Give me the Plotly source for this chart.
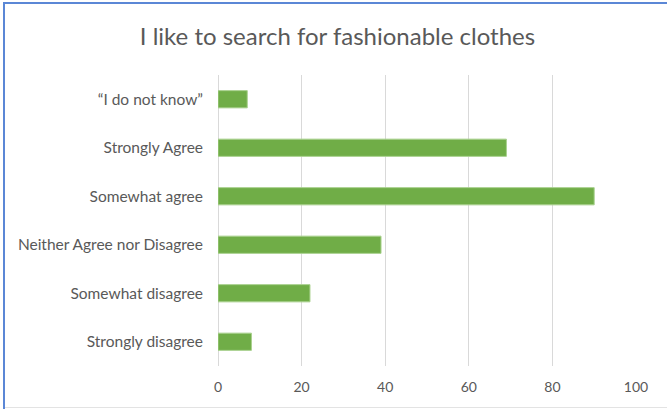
import plotly.graph_objects as go

# Survey responses, listed top to bottom as displayed
categories = [
    "\u201cI do not know\u201d",
    "Strongly Agree",
    "Somewhat agree",
    "Neither Agree nor Disagree",
    "Somewhat disagree",
    "Strongly disagree",
]
counts = [7, 69, 90, 39, 22, 8]
x_ticks = [0, 20, 40, 60, 80, 100]

W, H = 667, 409
ML, MR, MT, MB = 218, 31, 75, 43
plot_w = W - ML - MR
plot_h = H - MT - MB


def px_to_paper_x(px):
    return (px - ML) / plot_w


def px_to_paper_y(py):
    return 1 - (py - MT) / plot_h


fig = go.Figure(
    go.Bar(
        x=counts,
        y=categories,
        orientation="h",
        marker=dict(color="#70AD47", line=dict(color="#A9D18E", width=1)),
        hoverinfo="x+y",
    )
)

text_grey = "#595959"
font_family = "Lato, 'Open Sans', sans-serif"

fig.update_layout(
    width=W,
    height=H,
    margin=dict(l=ML, r=MR, t=MT, b=MB),
    paper_bgcolor="white",
    plot_bgcolor="white",
    bargap=0.645,
    showlegend=False,
    title=dict(
        text="I like to search for fashionable clothes",
        x=337.5 / W,
        xref="container",
        xanchor="center",
        y=1 - 37 / H,
        yanchor="middle",
        font=dict(family=font_family, size=24, color=text_grey),
    ),
    xaxis=dict(
        range=[0, 100],
        tickvals=x_ticks,
        showgrid=True,
        gridcolor="#D9D9D9",
        gridwidth=1,
        zeroline=True,
        zerolinecolor="#D9D9D9",
        zerolinewidth=1,
        showline=False,
        ticks="",
        ticklabelstandoff=11,
        tickfont=dict(family=font_family, size=14, color=text_grey),
    ),
    yaxis=dict(
        autorange="reversed",
        showgrid=False,
        zeroline=False,
        showline=False,
        ticks="",
        ticklabelstandoff=14,
        tickfont=dict(family=font_family, size=15.5, color=text_grey),
    ),
)

# Frame around the chart area
blue = "#5B87D6"
shapes = [
    dict(type="line", xref="paper", yref="paper",
         x0=px_to_paper_x(4), x1=px_to_paper_x(W + 2),
         y0=px_to_paper_y(3), y1=px_to_paper_y(3),
         line=dict(color=blue, width=2)),
    dict(type="line", xref="paper", yref="paper",
         x0=px_to_paper_x(4), x1=px_to_paper_x(4),
         y0=px_to_paper_y(2), y1=px_to_paper_y(H + 2),
         line=dict(color=blue, width=2)),
    dict(type="line", xref="paper", yref="paper",
         x0=px_to_paper_x(5), x1=px_to_paper_x(W + 2),
         y0=px_to_paper_y(407.5), y1=px_to_paper_y(407.5),
         line=dict(color="#E3E3E3", width=1)),
]
fig.update_layout(shapes=shapes)

fig.write_html("out.html")
